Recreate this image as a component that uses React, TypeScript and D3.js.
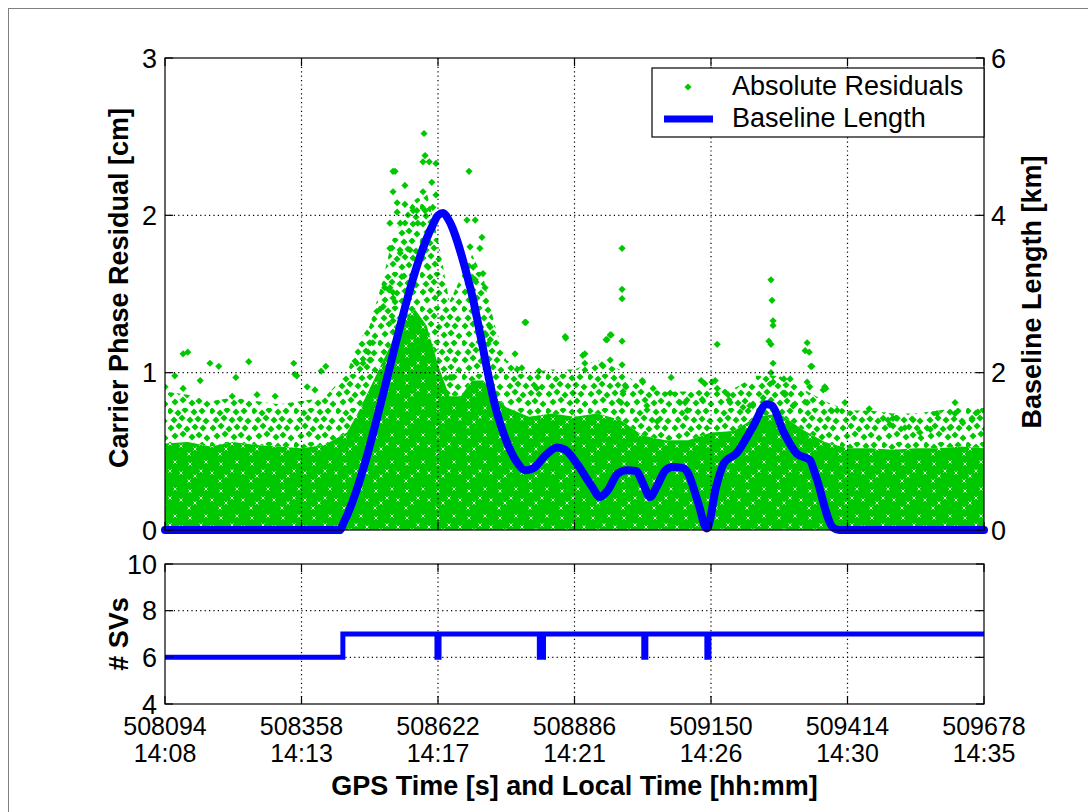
import React from 'react';
import * as d3 from 'd3';

// ---------- data ----------
const X_TICKS = [508094, 508358, 508622, 508886, 509150, 509414, 509678];
const TIME_LABELS = ['14:08', '14:13', '14:17', '14:21', '14:26', '14:30', '14:35'];
const RES_TICKS = [0, 1, 2, 3];
const KM_TICKS = [0, 2, 4, 6];
const SV_TICKS = [4, 6, 8, 10];

// Baseline length [km]
const baselineTime = [508094, 508432, 508440, 508610, 508622, 508632, 508642, 508684, 508736, 508776, 508790, 508805, 508830, 508852, 508868, 508890, 508920, 508935, 508950, 508970, 508988, 509005, 509018, 509032, 509045, 509062, 509076, 509095, 509104, 509125, 509142, 509160, 509175, 509200, 509230, 509258, 509268, 509290, 509316, 509341, 509352, 509386, 509398, 509678];
const baselineKm = [0, 0, 0.1, 3.85, 4.0, 4.03, 3.95, 3.09, 1.49, 0.85, 0.76, 0.78, 0.95, 1.05, 1.02, 0.85, 0.55, 0.42, 0.5, 0.72, 0.76, 0.75, 0.6, 0.42, 0.55, 0.76, 0.8, 0.79, 0.74, 0.35, 0.02, 0.55, 0.85, 0.98, 1.3, 1.6, 1.58, 1.25, 0.97, 0.89, 0.7, 0.03, 0, 0];

// Residual cloud: envelope of the dense core and of the spread of points [cm]
const envTime = [508094, 508138, 508182, 508226, 508270, 508314, 508358, 508402, 508446, 508468, 508490, 508512, 508534, 508556, 508578, 508600, 508622, 508644, 508666, 508688, 508710, 508732, 508754, 508798, 508842, 508886, 508930, 508974, 509018, 509062, 509106, 509150, 509194, 509238, 509282, 509326, 509370, 509414, 509458, 509502, 509546, 509590, 509634, 509678];
const coreTop = [0.55, 0.56, 0.53, 0.56, 0.54, 0.53, 0.52, 0.54, 0.62, 0.75, 0.9, 1.05, 1.2, 1.35, 1.4, 1.3, 1.05, 0.85, 0.85, 0.95, 0.95, 0.85, 0.78, 0.72, 0.74, 0.72, 0.74, 0.7, 0.6, 0.57, 0.57, 0.62, 0.63, 0.72, 0.74, 0.64, 0.56, 0.52, 0.52, 0.51, 0.52, 0.52, 0.53, 0.52];
const spreadTop = [0.88, 0.86, 0.82, 0.84, 0.82, 0.8, 0.82, 0.84, 1.0, 1.2, 1.3, 1.55, 1.85, 2.0, 2.1, 2.15, 1.85, 1.45, 1.6, 1.75, 1.6, 1.3, 1.08, 1.0, 1.02, 1.02, 1.08, 1.02, 0.9, 0.88, 0.88, 0.9, 0.9, 0.98, 0.98, 0.9, 0.82, 0.76, 0.76, 0.74, 0.74, 0.76, 0.78, 0.78];

// Individual residuals standing out of the cloud [time, cm]
const outliers: [number, number][] = [
  [508129, 1.12], [508138, 1.13], [508181, 1.06], [508198, 1.04], [508256, 1.07], [508231, 0.97], [508343, 1.06], [508345, 0.99], [508349, 0.98], [508396, 1.01], [508405, 1.04], [508113, 0.98], [508094, 0.91], [508129, 0.9], [508162, 0.95], [508224, 0.85], [508272, 0.86], [508307, 0.85], [508369, 0.91], [508384, 0.89], [508465, 1.06], [508477, 1.06], [508490, 1.19], [508496, 1.19], [508487, 1.13], [508490, 1.08],
  [508504, 1.39], [508792, 1.32], [508771, 1.12], [508817, 1.01], [508645, 0.97],
  [508595, 2.52], [508597, 2.38], [508593, 2.34], [508605, 2.34], [508535, 2.28], [508539, 2.28], [508682, 2.28], [508618, 2.33], [508558, 2.19], [508610, 2.21], [508535, 2.15], [508593, 2.15], [508618, 2.13], [508543, 2.08], [508558, 2.07], [508612, 2.05], [508574, 2.03], [508581, 2.03], [508597, 2.03], [508543, 2.02], [508529, 1.95], [508549, 1.95], [508583, 1.95], [508694, 1.97], [508678, 1.97], [508707, 1.86], [508684, 1.8], [508703, 1.79], [508529, 1.79], [508549, 1.76], [508568, 1.78], [508581, 1.72], [508603, 1.67], [508552, 1.61], [508529, 1.54], [508535, 1.51], [508690, 1.67], [508709, 1.63], [508694, 1.59], [508713, 1.54], [508790, 1.32], [508868, 1.23], [508775, 1.02], [508813, 0.9], [508784, 1.03], [508723, 1.29], [508713, 1.25], [508723, 1.21], [508519, 1.54], [508516, 1.42], [508539, 1.45], [508535, 1.33], [508649, 0.97], [508639, 0.87], [508906, 1.12], [508883, 0.87],
  [508978, 1.79], [508978, 1.53], [508978, 1.47], [508978, 1.2], [508949, 1.21], [508957, 1.24], [508978, 1.05], [508902, 1.11], [508906, 1.06], [508939, 1.05], [508955, 1.08], [509162, 1.18], [509266, 1.59], [509268, 1.46], [509270, 1.33], [509270, 1.3], [509262, 1.2], [509266, 1.18], [509270, 1.06], [509266, 1.0], [509270, 0.94], [509291, 0.96], [509073, 0.97], [509038, 0.9], [509018, 0.94], [509131, 0.95], [509138, 0.93], [509158, 0.95], [509162, 0.9], [508980, 0.88], [508976, 0.81], [508984, 0.92], [509090, 0.81], [509071, 0.87], [509104, 0.76], [509046, 0.69], [509026, 0.79], [509133, 0.83], [509183, 0.86], [509187, 0.81], [509212, 0.78], [509231, 0.79], [509251, 0.84], [509309, 0.79], [509293, 0.87], [508869, 1.22], [508955, 1.24], [508947, 1.21], [509017, 0.95], [509100, 0.81], [509152, 0.94], [509225, 0.79],
  [509336, 1.19], [509332, 1.14], [509340, 1.13], [509345, 1.04], [509336, 0.94], [509341, 0.91], [509367, 0.89], [509370, 0.91], [509336, 0.81], [509309, 0.79], [509409, 0.81], [509382, 0.76], [509394, 0.76], [509456, 0.77], [509483, 0.71], [509496, 0.67], [509510, 0.71], [509525, 0.65], [509541, 0.7], [509587, 0.74], [509622, 0.81], [509622, 0.74], [509637, 0.68], [509655, 0.71], [509666, 0.75], [509612, 0.65], [509574, 0.64], [509554, 0.62], [509303, 0.96], [509293, 0.86], [509343, 1.04], [509372, 0.9], [509502, 0.71]
];

// Number of satellites (step changes)
const svTime = [508094, 508438, 508620, 508624, 508818, 508826, 509020, 509024, 509142, 509146, 509678];
const svCount = [6, 7, 6, 7, 6, 7, 6, 7, 6, 7, 7];

// ---------- layout ----------
const W = 1088, H = 812;
const L = 165, R = 984, T1 = 58, B1 = 530, T2 = 564, B2 = 704;
const GREEN = '#00c800';
const BLUE = '#0000ff';
const FONT = '"Liberation Sans", Arial, Helvetica, sans-serif';
const TICK = 8;
const DIAMOND = 'M0,-3.6L3.6,0L0,3.6L-3.6,0Z';

const midDots: [number, number][] = [
  [2, 3], [10, 5], [17, 2], [26, 4], [34, 3],
  [6, 12], [14, 10], [22, 12], [30, 11], [38, 13],
  [3, 20], [11, 18], [19, 21], [27, 19], [35, 20],
  [7, 28], [15, 26], [24, 29], [31, 27], [39, 30]
];
const coreSpecks: [number, number][] = [[4, 5], [15, 12], [9, 17], [20, 3], [26, 14], [3, 22]];

export default function App() {
  const x = d3.scaleLinear().domain([X_TICKS[0], X_TICKS[X_TICKS.length - 1]]).range([L, R]);
  const yRes = d3.scaleLinear().domain([0, 3]).range([B1, T1]);
  const yKm = d3.scaleLinear().domain([0, 6]).range([B1, T1]);
  const ySv = d3.scaleLinear().domain([4, 10]).range([B2, T2]);

  const coreArea = d3.area<number>()
    .x((_, i) => x(envTime[i]))
    .y0(() => yRes(0))
    .y1((d) => yRes(d));
  const midArea = d3.area<number>()
    .x((_, i) => x(envTime[i]))
    .y0((_, i) => yRes(coreTop[i]))
    .y1((d) => yRes(d));
  const baseLine = d3.line<number>()
    .x((_, i) => x(baselineTime[i]))
    .y((d) => yKm(d))
    .curve(d3.curveMonotoneX);
  const svLine = d3.line<number>()
    .x((_, i) => x(svTime[i]))
    .y((d) => ySv(d))
    .curve(d3.curveStepAfter);

  const dotted = { stroke: '#000', strokeWidth: 1.2, strokeDasharray: '1.2,3.2' };

  return (
    <svg width={W} height={H} style={{ position: 'absolute', left: 0, top: 0, background: '#fff' }} fontFamily={FONT}>
      <defs>
        <pattern id="midPat" patternUnits="userSpaceOnUse" width={42} height={34}>
          {midDots.map(([px, py], i) => (
            <path key={i} d={DIAMOND} transform={`translate(${px},${py})`} fill={GREEN} />
          ))}
        </pattern>
        <pattern id="corePat" patternUnits="userSpaceOnUse" width={31} height={27}>
          <rect width={31} height={27} fill={GREEN} />
          {coreSpecks.map(([px, py], i) => (
            <path key={i} d="M-1.5,-1.5L1.5,1.5M-1.5,1.5L1.5,-1.5" transform={`translate(${px},${py})`} stroke="#fff" strokeWidth={0.9} />
          ))}
        </pattern>
        <clipPath id="clipTop">
          <rect x={L} y={T1 - 10} width={R - L + 4} height={B1 - T1 + 14} />
        </clipPath>
      </defs>

      <rect x={0} y={0} width={W} height={H} fill="#fff" />
      {/* outer frame */}
      <line x1={8} y1={8.5} x2={W} y2={8.5} stroke="#808080" />
      <line x1={8.5} y1={8} x2={8.5} y2={H} stroke="#808080" />

      {/* ---------- top panel ---------- */}
      <g clipPath="url(#clipTop)">
        <path d={coreArea(coreTop) || ''} fill="url(#corePat)" />
        <path d={midArea(spreadTop) || ''} fill="url(#midPat)" />
        {outliers.map(([t, v], i) => (
          <path key={i} d={DIAMOND} transform={`translate(${x(t)},${yRes(v)})`} fill={GREEN} />
        ))}
      </g>
      {/* grid */}
      {X_TICKS.slice(1, -1).map((t) => (
        <line key={t} x1={x(t)} x2={x(t)} y1={T1} y2={B1} {...dotted} />
      ))}
      {RES_TICKS.slice(1, -1).map((v) => (
        <line key={v} x1={L} x2={R} y1={yRes(v)} y2={yRes(v)} {...dotted} />
      ))}
      <path d={baseLine(baselineKm) || ''} fill="none" stroke={BLUE} strokeWidth={8} strokeLinejoin="round" strokeLinecap="round" />
      {/* box + ticks */}
      <rect x={L} y={T1} width={R - L} height={B1 - T1} fill="none" stroke="#000" strokeWidth={1.2} />
      {X_TICKS.map((t) => (
        <g key={t}>
          <line x1={x(t)} x2={x(t)} y1={B1} y2={B1 - TICK} stroke="#000" strokeWidth={1.2} />
          <line x1={x(t)} x2={x(t)} y1={T1} y2={T1 + TICK} stroke="#000" strokeWidth={1.2} />
        </g>
      ))}
      {RES_TICKS.map((v) => (
        <g key={v}>
          <line x1={L} x2={L + TICK} y1={yRes(v)} y2={yRes(v)} stroke="#000" strokeWidth={1.2} />
          <text x={L - 8} y={yRes(v)} dy="0.36em" textAnchor="end" fontSize={27}>{v}</text>
        </g>
      ))}
      {KM_TICKS.map((v) => (
        <g key={v}>
          <line x1={R} x2={R - TICK} y1={yKm(v)} y2={yKm(v)} stroke="#000" strokeWidth={1.2} />
          <text x={R + 7} y={yKm(v)} dy="0.36em" textAnchor="start" fontSize={27}>{v}</text>
        </g>
      ))}
      <text transform={`translate(128,${(T1 + B1) / 2 - 6}) rotate(-90)`} textAnchor="middle" fontSize={27} fontWeight="bold">Carrier Phase Residual [cm]</text>
      <text transform={`translate(1041,${(T1 + B1) / 2 - 2}) rotate(-90)`} textAnchor="middle" fontSize={27} fontWeight="bold">Baseline Length [km]</text>

      {/* legend */}
      <g>
        <rect x={652} y={68} width={R - 652} height={69} fill="#fff" stroke="#000" strokeWidth={1.2} />
        <path d={DIAMOND} transform="translate(688,87)" fill={GREEN} />
        <text x={732} y={95} fontSize={27}>Absolute Residuals</text>
        <line x1={664} x2={713} y1={119} y2={119} stroke={BLUE} strokeWidth={7} />
        <text x={732} y={127} fontSize={27}>Baseline Length</text>
      </g>

      {/* ---------- bottom panel ---------- */}
      {X_TICKS.slice(1, -1).map((t) => (
        <line key={t} x1={x(t)} x2={x(t)} y1={T2} y2={B2} {...dotted} />
      ))}
      {SV_TICKS.slice(1, -1).map((v) => (
        <line key={v} x1={L} x2={R} y1={ySv(v)} y2={ySv(v)} {...dotted} />
      ))}
      <path d={svLine(svCount) || ''} fill="none" stroke={BLUE} strokeWidth={5} />
      <rect x={L} y={T2} width={R - L} height={B2 - T2} fill="none" stroke="#000" strokeWidth={1.2} />
      {X_TICKS.map((t, i) => (
        <g key={t}>
          <line x1={x(t)} x2={x(t)} y1={B2} y2={B2 - TICK} stroke="#000" strokeWidth={1.2} />
          <line x1={x(t)} x2={x(t)} y1={T2} y2={T2 + TICK} stroke="#000" strokeWidth={1.2} />
          <text x={x(t)} y={735} textAnchor="middle" fontSize={25}>{t}</text>
          <text x={x(t)} y={762} textAnchor="middle" fontSize={25}>{TIME_LABELS[i]}</text>
        </g>
      ))}
      {SV_TICKS.map((v) => (
        <g key={v}>
          <line x1={L} x2={L + TICK} y1={ySv(v)} y2={ySv(v)} stroke="#000" strokeWidth={1.2} />
          <line x1={R} x2={R - TICK} y1={ySv(v)} y2={ySv(v)} stroke="#000" strokeWidth={1.2} />
          <text x={L - 8} y={ySv(v)} dy="0.36em" textAnchor="end" fontSize={27}>{v}</text>
        </g>
      ))}
      <text transform={`translate(128,634) rotate(-90)`} textAnchor="middle" fontSize={27} fontWeight="bold"># SVs</text>
      <text x={(L + R) / 2} y={795} textAnchor="middle" fontSize={27} fontWeight="bold">GPS Time [s] and Local Time [hh:mm]</text>
    </svg>
  );
}
